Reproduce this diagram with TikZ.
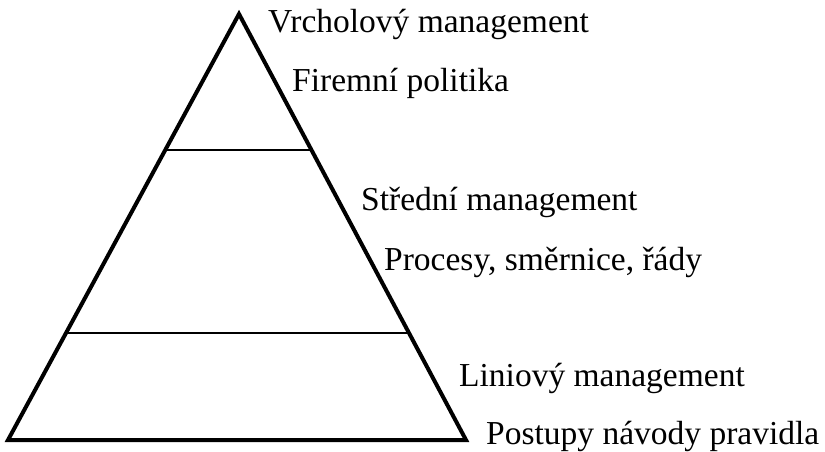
\documentclass[tikz,border=0pt]{standalone}
\usepackage{fontspec}
\setmainfont{Liberation Serif}
\usetikzlibrary{calc}

\begin{document}
\begin{tikzpicture}[
        x=1pt, y=-1pt,
        side/.style={draw, line width=4pt, line join=miter},
        level/.style={draw, line width=2pt},
        label/.style={anchor=base west, inner sep=0pt, font=\fontsize{33.5}{40}\selectfont}
    ]
        \useasboundingbox (0,0) rectangle (825,452);

        % Pyramid corners
        \coordinate (apex) at (239,14);
        \coordinate (bl) at (8,440);
        \coordinate (br) at (466,440);
        \draw[side] (apex) -- (bl) -- (br) -- cycle;

        % Levels
        \coordinate (l1a) at ($(apex)!0.319!(bl)$);
        \coordinate (l1b) at ($(apex)!0.319!(br)$);
        \coordinate (l2a) at ($(apex)!0.749!(bl)$);
        \coordinate (l2b) at ($(apex)!0.749!(br)$);
        \draw[level] (l1a) -- (l1b);
        \draw[level] (l2a) -- (l2b);

        % Labels
        \node[label] (top) at (268,33) {Vrcholový management};
        \node[label] (topdoc) at (292,92) {Firemní politika};
        \node[label] (mid) at (361,210) {Střední management};
        \node[label] (middoc) at (384,270) {Procesy, směrnice, řády};
        \node[label] (low) at (459,386) {Liniový management};
        \node[label] (lowdoc) at (486,444) {Postupy návody pravidla};

    \end{tikzpicture}
\end{document}
